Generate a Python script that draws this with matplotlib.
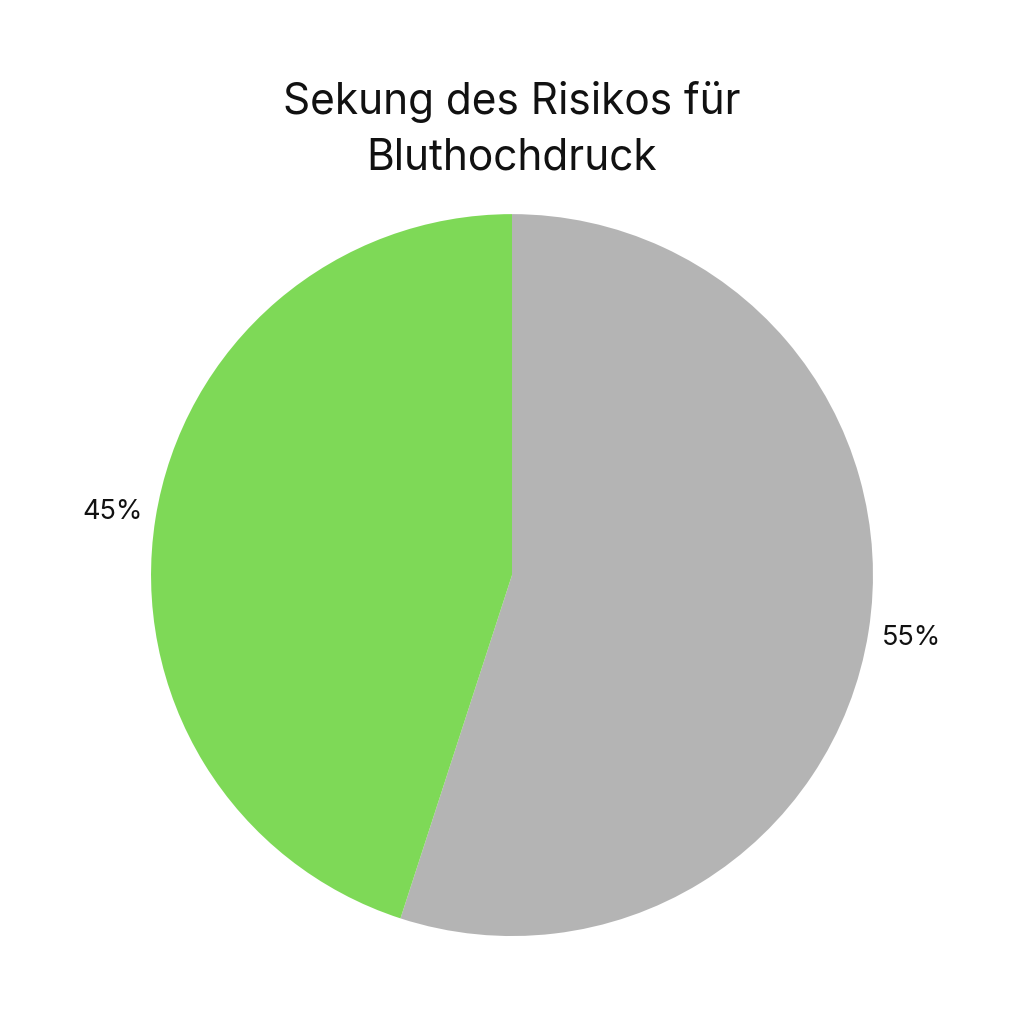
import matplotlib.pyplot as plt

plt.rcParams['font.family'] = ['Inter', 'DejaVu Sans']

labels = ["55%", "45%"]
values = [55, 45]
colors = ["#b4b4b4", "#7ed957"]
title = "Sekung des Risikos für\nBluthochdruck"

fig = plt.figure(figsize=(10.24, 10.24), dpi=100)
ax = fig.add_axes([0.1475, 0.0859, 0.705, 0.705])

wedges, texts = ax.pie(values, labels=labels, colors=colors, startangle=90,
                       counterclock=False, labeldistance=1.12,
                       textprops={'fontsize': 19.5, 'color': '#111111'},
                       wedgeprops={'linewidth': 0})
# labels sit centred on their anchor point, not flush to it
for t in texts:
    t.set_ha('center')
ax.set_xlim(-1, 1)
ax.set_ylim(-1, 1)
ax.set_aspect('equal')

fig.text(0.5, 1 - 130 / 1024, title, ha='center', va='center', fontsize=30.5,
         linespacing=1.45, color='#111111')

fig.savefig("out.png", dpi=100, facecolor='white')
